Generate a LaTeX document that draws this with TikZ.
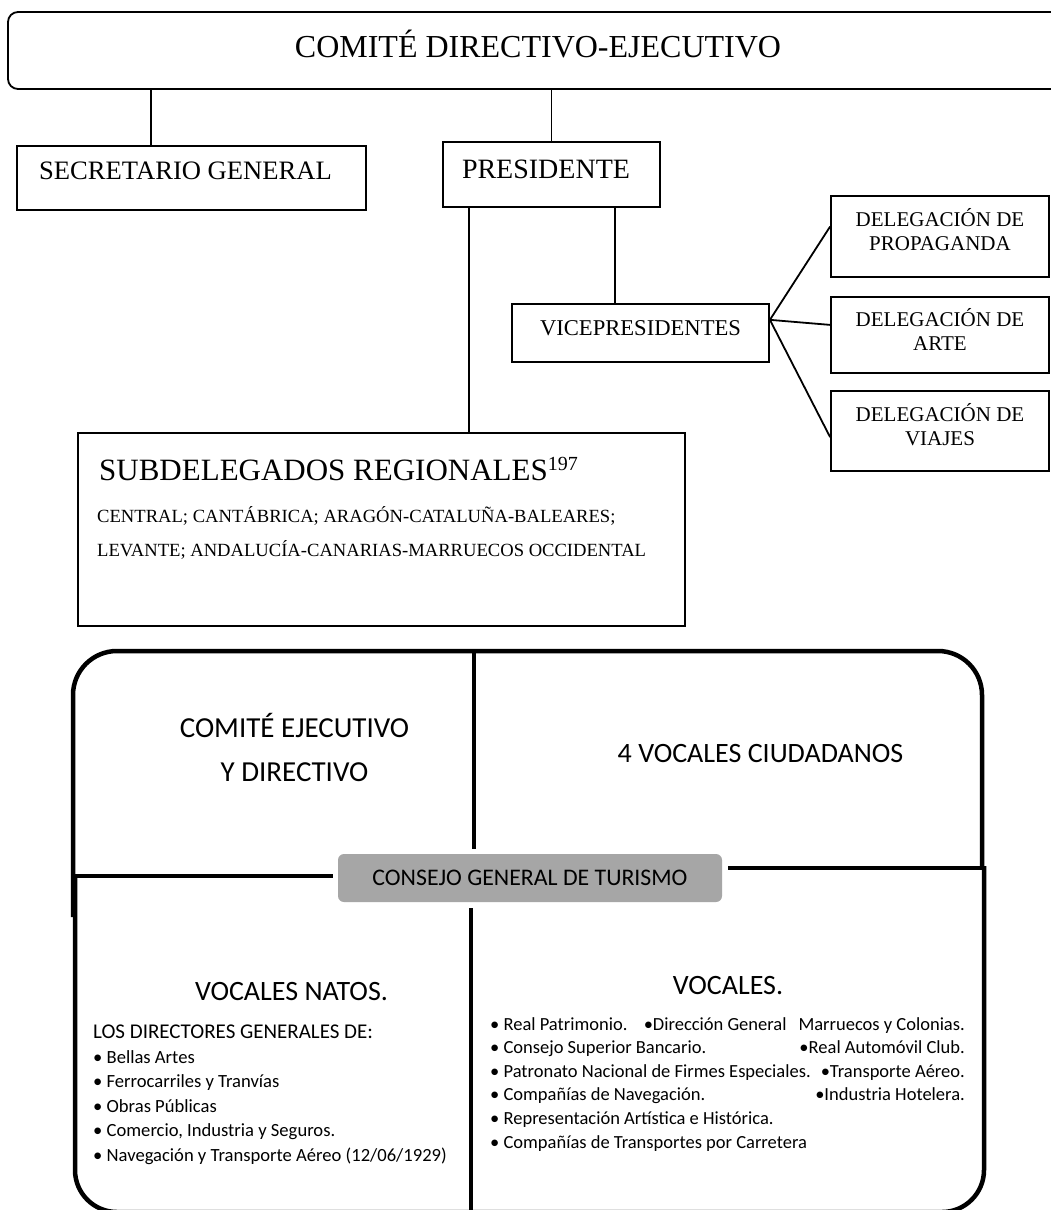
\documentclass[tikz,border=0pt]{standalone}
\usepackage{fontspec}
\setmainfont{Liberation Serif}
\newfontfamily\calibri{Carlito}
\usetikzlibrary{calc}
\definecolor{cgray}{HTML}{A6A6A6}
\newcommand\fsz[2]{\fontsize{#1pt}{#2pt}\selectfont}
\begin{document}
\begin{tikzpicture}[x=1pt,y=-1pt,
  obox/.style={draw, line width=1.8pt, inner sep=0pt, align=center},
  conn/.style={line width=1.8pt},
  quad/.style={line width=4.5pt},
  txt/.style={inner sep=0pt}]
\useasboundingbox (0,0) rectangle (1051,1210);
\fill[white] (0,0) rectangle (1051,1210);
\begin{scope}
\clip (0,0) rectangle (1051,1210);
% ---------- upper chart ----------
\node[obox, rounded corners=10pt, minimum width=1060pt, minimum height=77pt,
      font=\fsz{32}{38}, text height=21.2pt, text depth=7pt] (top) at (538,50.5) {COMITÉ DIRECTIVO-EJECUTIVO};
\node[obox, minimum width=349pt, minimum height=64pt, font=\fsz{26.6}{32},
      text height=17.6pt, text depth=15pt] (sec) at (191.5,178) {\hspace*{-12pt}SECRETARIO GENERAL};
\node[obox, minimum width=217pt, minimum height=65pt, font=\fsz{28}{34},
      text height=18.5pt, text depth=10pt] (pres) at (551.5,174.5) {\hspace*{-11pt}PRESIDENTE};
\node[obox, minimum width=257pt, minimum height=58pt, font=\fsz{22.6}{27},
      text height=15pt, text depth=9.4pt] (vice) at (640.5,333) {VICEPRESIDENTES};
\node[obox, minimum width=218pt, minimum height=81pt, font=\fsz{21}{24}] (prop) at (940,236.5)
      {DELEGACIÓN DE\\PROPAGANDA\rule[-15pt]{0pt}{15pt}};
\node[obox, minimum width=218pt, minimum height=76pt, font=\fsz{21}{24}] (arte) at (940,335)
      {DELEGACIÓN DE\\ARTE\rule[-10.6pt]{0pt}{10.6pt}};
\node[obox, minimum width=218pt, minimum height=80pt, font=\fsz{21}{24}] (viaj) at (940,431)
      {DELEGACIÓN DE\\VIAJES\rule[-12.6pt]{0pt}{12.6pt}};
\node[obox, minimum width=607pt, minimum height=193pt, anchor=north west] (sub) at (77,432) {};
\node[txt, anchor=base west, font=\fsz{31}{36}] (subt) at (99,480)
      {SUBDELEGADOS REGIONALES\raisebox{10pt}{\fsz{20}{20}197}};
\node[txt, anchor=base west, font=\fsz{18.6}{34}] (subr) at (97,522)
      {\begin{tabular}[t]{@{}l@{}}CENTRAL; CANTÁBRICA; ARAGÓN-CATALUÑA-BALEARES;\\
       LEVANTE; ANDALUCÍA-CANARIAS-MARRUECOS OCCIDENTAL\end{tabular}};
% connectors
\draw[conn] ([xshift=135pt]sec.north west) -- ([xshift=135pt]sec.north west |- top.south);
\draw[conn] (pres.north) -- (pres.north |- top.south);
\draw[conn] ([xshift=27pt]pres.south west) -- ([xshift=27pt]pres.south west |- sub.north);
\draw[conn] ([xshift=173pt]pres.south west) -- ([xshift=173pt]pres.south west |- vice.north);
\coordinate (vf) at ($(vice.north east)!0.28!(vice.south east)$);
\draw[conn] (vf) -- ($(prop.north west)!0.38!(prop.south west)$);
\draw[conn] (vf) -- ($(arte.north west)!0.37!(arte.south west)$);
\draw[conn] (vf) -- ($(viaj.north west)!0.575!(viaj.south west)$);
% ---------- lower matrix ----------
\draw[quad, rounded corners=44pt] (73,917) -- (73,651) -- (982,651) -- (982,868);
\draw[quad, rounded corners=42pt] (75,876) -- (75,1212) -- (984,1212) -- (984,866);
\node[fill=cgray, rounded corners=6pt, minimum width=384pt, minimum height=48pt, inner sep=0pt,
      font=\calibri\fsz{23.8}{28}] (cgt) at (530,878) {CONSEJO GENERAL DE TURISMO};
\draw[quad] (75,876) -- (333,876);
\draw[quad] (728,868) -- (986,868);
\draw[quad] (474,651) -- (474,849);
\draw[quad] (471,908) -- (471,1212);
\node[txt, anchor=base, font=\calibri\fsz{29}{44}] (cej) at (294.5,737)
      {\begin{tabular}[t]{@{}c@{}}COMITÉ EJECUTIVO\\Y DIRECTIVO\end{tabular}};
\node[txt, anchor=base, font=\calibri\fsz{28}{34}] (vciu) at (760.5,762) {4 VOCALES CIUDADANOS};
\node[txt, anchor=base, font=\calibri\fsz{28}{34}] (vnat) at (291.5,1000) {VOCALES NATOS.};
\node[txt, anchor=base west, font=\calibri\fsz{21}{25}] (ldg) at (93,1038) {LOS DIRECTORES GENERALES DE:};
\node[txt, anchor=base west, font=\calibri\fsz{18.6}{24.5}] (lnat) at (93,1063)
      {\begin{tabular}[t]{@{}l@{}}• Bellas Artes\\• Ferrocarriles y Tranvías\\• Obras Públicas\\
       • Comercio, Industria y Seguros.\\• Navegación y Transporte Aéreo (12/06/1929)\end{tabular}};
\node[txt, anchor=base, font=\calibri\fsz{28}{34}] (voc) at (728,994) {VOCALES.};
\node[txt, anchor=base west, font=\calibri\fsz{18.5}{23.6}] (lvoc) at (490,1030)
      {\begin{tabular}[t]{@{}l@{}}• Real Patrimonio.\\• Consejo Superior Bancario.\\
       • Patronato Nacional de Firmes Especiales.\\• Compañías de Navegación.\\
       • Representación Artística e Histórica.\\• Compañías de Transportes por Carretera\end{tabular}};
\node[txt, anchor=base east, font=\calibri\fsz{18.5}{23.6}] (rvoc) at (965,1030)
      {\begin{tabular}[t]{@{}r@{}}•Dirección General\hspace{12pt}Marruecos y Colonias.\\
       •Real Automóvil Club.\\•Transporte Aéreo.\\•Industria Hotelera.\end{tabular}};
\end{scope}
\end{tikzpicture}
\end{document}
